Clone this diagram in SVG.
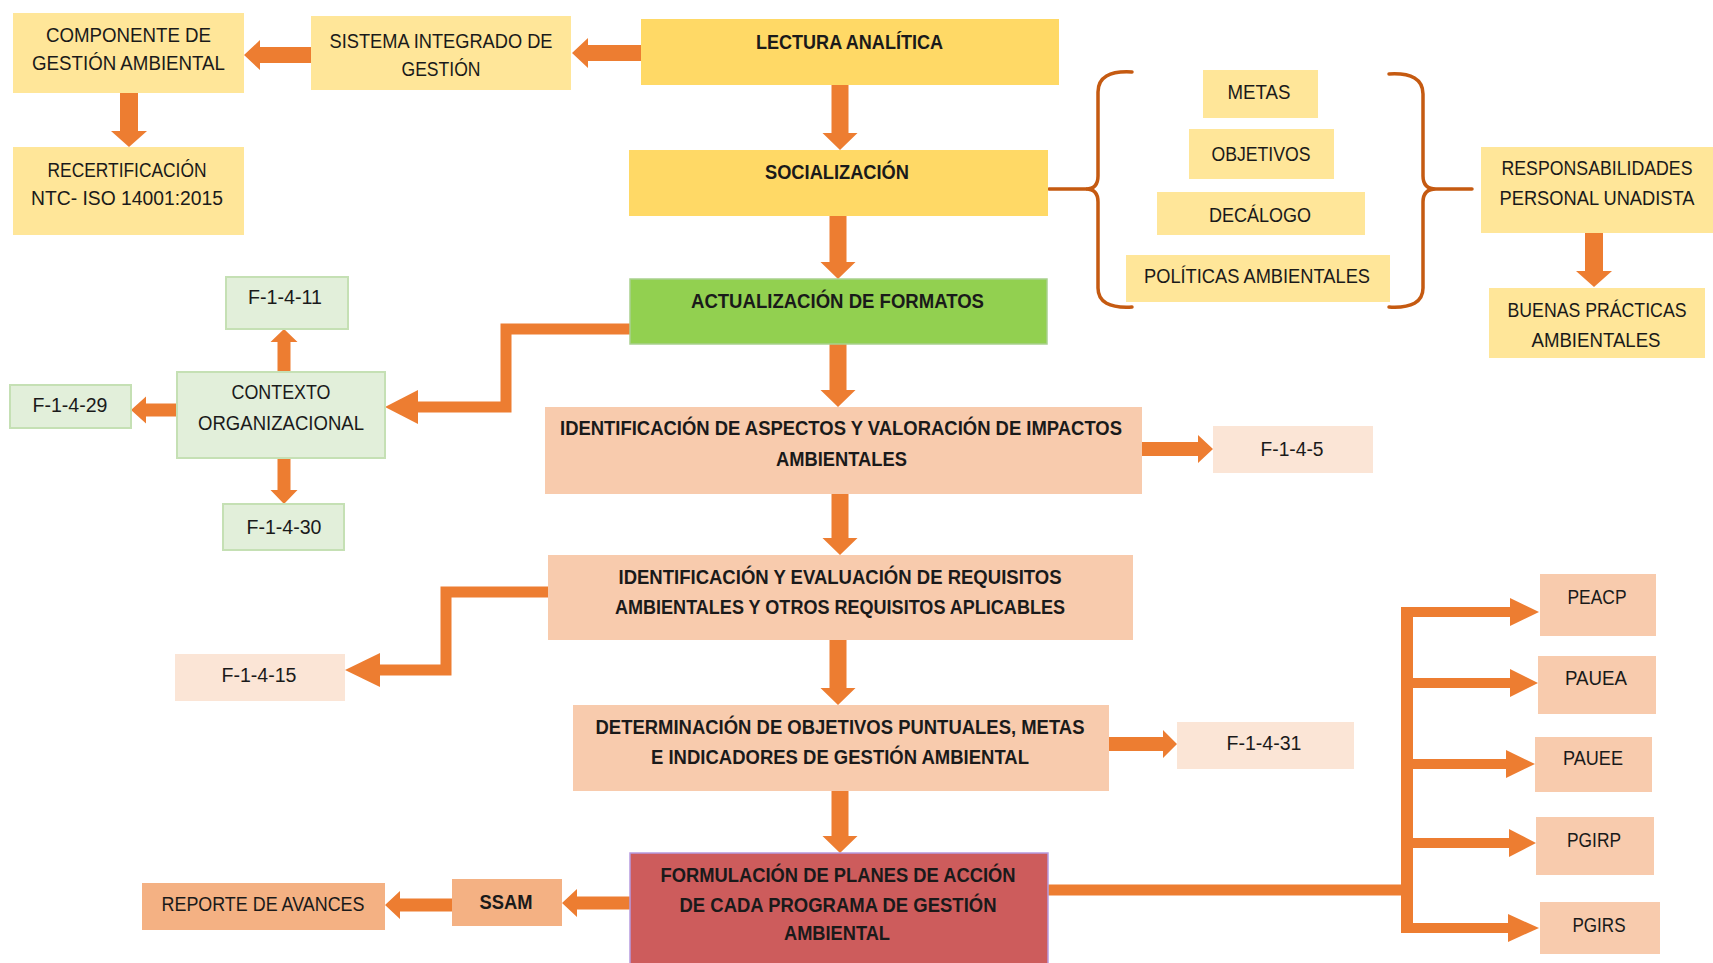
<svg xmlns="http://www.w3.org/2000/svg" width="1713" height="963" viewBox="0 0 1713 963">
<style>
text{font-family:"Liberation Sans",Arial,sans-serif;fill:#1a1a1a;text-anchor:middle;dominant-baseline:central;font-size:19.5px}
.b{font-weight:bold;font-size:20.5px}
.y1{fill:#FFD966}
.y2{fill:#FFE699}
.gr{fill:#92D050;stroke:#A9D18E;stroke-width:1.5}
.lg{fill:#E2EFDA;stroke:#C5E0B4;stroke-width:2}
.pe{fill:#F8CBAD}
.lp{fill:#FBE5D6}
.or{fill:#F4B183}
.rd{fill:#CD5C5C;stroke:#B69BE0;stroke-width:1.5}
.ar{fill:#ED7D31}
.ln{fill:none;stroke:#ED7D31}
.br{fill:none;stroke:#C55A11;stroke-width:3.5;stroke-linecap:round}
</style>
<rect width="1713" height="963" fill="#fff"/>
<g id="connectors">
<polygon class="ar" points="831.5,85 848.5,85 848.5,133 857.5,133 840,150 822.5,133 831.5,133"/>
<polygon class="ar" points="829.5,216 846.5,216 846.5,262 855.5,262 838,279 820.5,262 829.5,262"/>
<polygon class="ar" points="829.5,344 846.5,344 846.5,390 855.5,390 838,407 820.5,390 829.5,390"/>
<polygon class="ar" points="831.5,494 848.5,494 848.5,538 857.5,538 840,555 822.5,538 831.5,538"/>
<polygon class="ar" points="829.5,640 846.5,640 846.5,688 855.5,688 838,705 820.5,688 829.5,688"/>
<polygon class="ar" points="831.5,791 848.5,791 848.5,836 857.5,836 840,853 822.5,836 831.5,836"/>
<polygon class="ar" points="641,45 641,61 588,61 588,68 572,53 588,38 588,45"/>
<polygon class="ar" points="311,47 311,63 260,63 260,70 244,55 260,40 260,47"/>
<polygon class="ar" points="120,93 138,93 138,131 147,131 129,147 111,131 120,131"/>
<polygon class="ar" points="1585,233 1603,233 1603,271 1612,271 1594,287 1576,271 1585,271"/>
<polygon class="ar" points="277.5,371 290.5,371 290.5,342 297.5,342 284,329 270.5,342 277.5,342"/>
<polygon class="ar" points="181,403.5 181,416.5 146,416.5 146,423.5 131,410 146,396.5 146,403.5"/>
<polygon class="ar" points="277.5,457 290.5,457 290.5,490 297.5,490 284,504 270.5,490 277.5,490"/>
<polygon class="ar" points="1142,442 1142,456 1198,456 1198,463 1213,449 1198,435 1198,442"/>
<polygon class="ar" points="1109,737 1109,751 1163,751 1163,758 1177,744 1163,730 1163,737"/>
<polygon class="ar" points="630,896.5 630,909.5 577,909.5 577,917 562,903 577,889 577,896.5"/>
<polygon class="ar" points="452,898.5 452,911.5 400,911.5 400,919 385,905 400,891 400,898.5"/>
<polyline class="ln" stroke-width="11" points="630,329 506,329 506,407 416,407"/>
<polygon class="ar" points="418,390 418,424 385,407"/>
<polyline class="ln" stroke-width="11" points="548,592 446,592 446,670 378,670"/>
<polygon class="ar" points="380,653 380,687 345,670"/>
<line class="ln" stroke-width="11" x1="1048" y1="890" x2="1412" y2="890"/>
<line class="ln" stroke-width="12" x1="1407" y1="607" x2="1407" y2="933"/>
<g class="ln" stroke-width="10">
<line x1="1402" y1="612" x2="1512" y2="612"/>
<line x1="1402" y1="683" x2="1512" y2="683"/>
<line x1="1402" y1="764" x2="1508" y2="764"/>
<line x1="1402" y1="843" x2="1510" y2="843"/>
<line x1="1402" y1="928" x2="1510" y2="928"/>
</g>
<polygon class="ar" points="1510,598 1510,626 1539,612"/>
<polygon class="ar" points="1510,669 1510,697 1538,683"/>
<polygon class="ar" points="1506,750 1506,778 1535,764"/>
<polygon class="ar" points="1509,829 1509,857 1536,843"/>
<polygon class="ar" points="1508,914 1508,942 1539,928"/>
<path class="br" d="M1049,189 L1086,189"/>
<path class="br" d="M1132,72 Q1098,70 1098,92 L1098,176 Q1098,189 1086,189 Q1098,189 1098,202 L1098,288 Q1098,309 1132,307"/>
<path class="br" d="M1389,74 Q1423,72 1423,94 L1423,176 Q1423,189 1436,189 L1472,189 M1436,189 Q1423,189 1423,202 L1423,288 Q1423,309 1389,307"/>
</g>
<g id="n-componente"><rect class="y2" x="13" y="13" width="231" height="80"/><text x="128.5" y="35" textLength="165" lengthAdjust="spacingAndGlyphs">COMPONENTE DE</text><text x="128.5" y="63" textLength="193" lengthAdjust="spacingAndGlyphs">GESTIÓN AMBIENTAL</text></g>
<g id="n-recert"><rect class="y2" x="13" y="147" width="231" height="88"/><text x="127" y="170" textLength="159" lengthAdjust="spacingAndGlyphs">RECERTIFICACIÓN</text><text x="127" y="198" textLength="192" lengthAdjust="spacingAndGlyphs">NTC- ISO 14001:2015</text></g>
<g id="n-sistema"><rect class="y2" x="311" y="16" width="260" height="74"/><text x="441" y="41" textLength="223" lengthAdjust="spacingAndGlyphs">SISTEMA INTEGRADO DE</text><text x="441" y="69" textLength="79" lengthAdjust="spacingAndGlyphs">GESTIÓN</text></g>
<g id="n-lectura"><rect class="y1" x="641" y="19" width="418" height="66"/><text class="b" x="849.5" y="41" textLength="187" lengthAdjust="spacingAndGlyphs">LECTURA ANALÍTICA</text></g>
<g id="n-socializacion"><rect class="y1" x="629" y="150" width="419" height="66"/><text class="b" x="837" y="171" textLength="144" lengthAdjust="spacingAndGlyphs">SOCIALIZACIÓN</text></g>
<g id="n-actualizacion"><rect class="gr" x="630" y="279" width="417" height="65"/><text class="b" x="837.5" y="300" textLength="293" lengthAdjust="spacingAndGlyphs">ACTUALIZACIÓN DE FORMATOS</text></g>
<g id="n-metas"><rect class="y2" x="1203" y="70" width="115" height="48"/><text x="1259" y="92" textLength="63" lengthAdjust="spacingAndGlyphs">METAS</text></g>
<g id="n-objetivos"><rect class="y2" x="1189" y="129" width="145" height="50"/><text x="1261" y="154" textLength="99" lengthAdjust="spacingAndGlyphs">OBJETIVOS</text></g>
<g id="n-decalogo"><rect class="y2" x="1157" y="192" width="208" height="43"/><text x="1260" y="215" textLength="102" lengthAdjust="spacingAndGlyphs">DECÁLOGO</text></g>
<g id="n-politicas"><rect class="y2" x="1126" y="255" width="264" height="47"/><text x="1257" y="276" textLength="226" lengthAdjust="spacingAndGlyphs">POLÍTICAS AMBIENTALES</text></g>
<g id="n-responsabilidades"><rect class="y2" x="1481" y="147" width="232" height="86"/><text x="1597" y="168" textLength="191" lengthAdjust="spacingAndGlyphs">RESPONSABILIDADES</text><text x="1597" y="198" textLength="195" lengthAdjust="spacingAndGlyphs">PERSONAL UNADISTA</text></g>
<g id="n-buenas"><rect class="y2" x="1489" y="288" width="216" height="70"/><text x="1597" y="310" textLength="179" lengthAdjust="spacingAndGlyphs">BUENAS PRÁCTICAS</text><text x="1596" y="340" textLength="129" lengthAdjust="spacingAndGlyphs">AMBIENTALES</text></g>
<g id="n-f1411"><rect class="lg" x="226" y="277" width="122" height="52"/><text x="285" y="297" textLength="74" lengthAdjust="spacingAndGlyphs">F-1-4-11</text></g>
<g id="n-contexto"><rect class="lg" x="177" y="372" width="208" height="86"/><text x="281" y="392" textLength="99" lengthAdjust="spacingAndGlyphs">CONTEXTO</text><text x="281" y="423" textLength="166" lengthAdjust="spacingAndGlyphs">ORGANIZACIONAL</text></g>
<g id="n-f1429"><rect class="lg" x="10" y="385" width="121" height="43"/><text x="70" y="405" textLength="75" lengthAdjust="spacingAndGlyphs">F-1-4-29</text></g>
<g id="n-f1430"><rect class="lg" x="223" y="504" width="121" height="46"/><text x="284" y="527" textLength="75" lengthAdjust="spacingAndGlyphs">F-1-4-30</text></g>
<g id="n-aspectos"><rect class="pe" x="545" y="407" width="597" height="87"/><text class="b" x="841" y="427" textLength="562" lengthAdjust="spacingAndGlyphs">IDENTIFICACIÓN DE ASPECTOS Y VALORACIÓN DE IMPACTOS</text><text class="b" x="841.5" y="458" textLength="131" lengthAdjust="spacingAndGlyphs">AMBIENTALES</text></g>
<g id="n-f145"><rect class="lp" x="1213" y="426" width="160" height="47"/><text x="1292" y="449" textLength="63" lengthAdjust="spacingAndGlyphs">F-1-4-5</text></g>
<g id="n-requisitos"><rect class="pe" x="548" y="555" width="585" height="85"/><text class="b" x="840" y="576" textLength="443" lengthAdjust="spacingAndGlyphs">IDENTIFICACIÓN Y EVALUACIÓN DE REQUISITOS</text><text class="b" x="840" y="606" textLength="450" lengthAdjust="spacingAndGlyphs">AMBIENTALES Y OTROS REQUISITOS APLICABLES</text></g>
<g id="n-f1415"><rect class="lp" x="175" y="654" width="170" height="47"/><text x="259" y="675" textLength="75" lengthAdjust="spacingAndGlyphs">F-1-4-15</text></g>
<g id="n-determinacion"><rect class="pe" x="573" y="705" width="536" height="86"/><text class="b" x="840" y="726" textLength="489" lengthAdjust="spacingAndGlyphs">DETERMINACIÓN DE OBJETIVOS PUNTUALES, METAS</text><text class="b" x="840" y="756" textLength="378" lengthAdjust="spacingAndGlyphs">E INDICADORES DE GESTIÓN AMBIENTAL</text></g>
<g id="n-f1431"><rect class="lp" x="1177" y="722" width="177" height="47"/><text x="1264" y="743" textLength="75" lengthAdjust="spacingAndGlyphs">F-1-4-31</text></g>
<g id="n-formulacion"><rect class="rd" x="630" y="853" width="418" height="115"/><text class="b" x="838" y="874" textLength="355" lengthAdjust="spacingAndGlyphs">FORMULACIÓN DE PLANES DE ACCIÓN</text><text class="b" x="838" y="904" textLength="317" lengthAdjust="spacingAndGlyphs">DE CADA PROGRAMA DE GESTIÓN</text><text class="b" x="837" y="932" textLength="106" lengthAdjust="spacingAndGlyphs">AMBIENTAL</text></g>
<g id="n-ssam"><rect class="or" x="452" y="879" width="110" height="47"/><text class="b" x="506" y="901" textLength="53" lengthAdjust="spacingAndGlyphs">SSAM</text></g>
<g id="n-reporte"><rect class="or" x="142" y="883" width="243" height="47"/><text x="263" y="904" textLength="203" lengthAdjust="spacingAndGlyphs">REPORTE DE AVANCES</text></g>
<g id="n-peacp"><rect class="pe" x="1540" y="574" width="116" height="62"/><text x="1597" y="597" textLength="59" lengthAdjust="spacingAndGlyphs">PEACP</text></g>
<g id="n-pauea"><rect class="pe" x="1538" y="656" width="118" height="58"/><text x="1596" y="678" textLength="62" lengthAdjust="spacingAndGlyphs">PAUEA</text></g>
<g id="n-pauee"><rect class="pe" x="1535" y="737" width="117" height="55"/><text x="1593" y="758" textLength="60" lengthAdjust="spacingAndGlyphs">PAUEE</text></g>
<g id="n-pgirp"><rect class="pe" x="1536" y="817" width="118" height="58"/><text x="1594" y="840" textLength="54" lengthAdjust="spacingAndGlyphs">PGIRP</text></g>
<g id="n-pgirs"><rect class="pe" x="1540" y="902" width="120" height="52"/><text x="1599" y="925" textLength="53" lengthAdjust="spacingAndGlyphs">PGIRS</text></g>
</svg>
